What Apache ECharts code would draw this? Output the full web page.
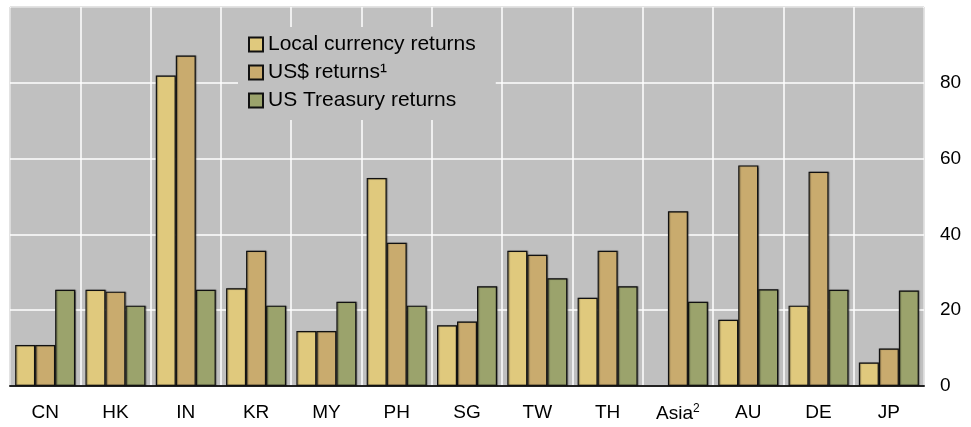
<!DOCTYPE html>
<html>
<head>
<meta charset="utf-8">
<title>Returns</title>
<script src="https://cdn.jsdelivr.net/npm/echarts@6/dist/echarts.min.js"></script>
<style>
  html, body { margin: 0; padding: 0; background: #fff; }
  #demo { width: 971px; height: 427px; }
</style>
</head>
<body>
<div id="demo"></div>
<script>
var categories = ["CN", "HK", "IN", "KR", "MY", "PH", "SG", "TW", "TH", "Asia", "AU", "DE", "JP"];
var localReturns = [10.8, 25.4, 81.9, 25.8, 14.5, 54.9, 16.0, 35.7, 23.3, null, 17.5, 21.2, 6.2];
var usdReturns = [10.8, 24.9, 87.2, 35.7, 14.5, 37.8, 17.0, 34.6, 35.7, 46.1, 58.2, 56.5, 9.9];
var treasuryReturns = [25.4, 21.2, 25.4, 21.2, 22.2, 21.2, 26.3, 28.4, 26.3, 22.2, 25.5, 25.4, 25.2];
var yTicks = [0, 20, 40, 60, 80];

var font = "'Liberation Sans', Arial, sans-serif";
var myChart = echarts.init(document.getElementById('demo'));

// 柱子的共同样式
function barStyle(color) {
    return {
        color: color,
        borderColor: '#111',
        borderWidth: 1.2,
        shadowColor: 'rgba(0,0,0,0.35)',
        shadowBlur: 1,
        shadowOffsetX: 1,
        shadowOffsetY: 0
    };
}

var option = {
    animation: false,
    textStyle: { fontFamily: font },
    grid: {
        left: 10, right: 47, top: 7, bottom: 41,
        show: true,
        backgroundColor: '#c0c0c0',
        borderColor: '#222',
        borderWidth: 1
    },
    legend: {
        orient: 'vertical',
        left: 238, top: 27,
        padding: [7, 20, 9, 10],
        backgroundColor: '#c0c0c0',
        itemWidth: 14, itemHeight: 14, itemGap: 7,
        icon: 'rect',
        textStyle: { fontSize: 21, color: '#000', lineHeight: 21, fontFamily: font },
        data: ['Local currency returns', 'US$ returns¹', 'US Treasury returns']
    },
    xAxis: {
        type: 'category',
        data: categories,
        axisLine: { lineStyle: { color: '#222', width: 2 } },
        axisTick: { show: false },
        splitLine: { show: true, interval: 0, lineStyle: { color: '#fff', width: 1.5 } },
        axisLabel: {
            interval: 0,
            fontSize: 19, color: '#000', margin: 17, fontFamily: font,
            formatter: function (v) { return v === 'Asia' ? 'Asia{sup|2}' : v; },
            rich: { sup: { fontSize: 12, verticalAlign: 'top', padding: [0, 0, 9, 0], color: '#000' } }
        }
    },
    yAxis: {
        type: 'value',
        position: 'right',
        min: 0, max: 100, interval: 20,
        axisLine: { show: false },
        axisTick: { show: false },
        splitLine: { lineStyle: { color: '#fff', width: 1.5 } },
        axisLabel: {
            fontSize: 19, color: '#000', margin: 16, fontFamily: font,
            formatter: function (v) { return yTicks.indexOf(v) >= 0 ? String(v) : ''; }
        }
    },
    series: [{
        name: 'Local currency returns',
        type: 'bar',
        barWidth: 20, barGap: '0%',
        itemStyle: barStyle('#e0c97d'),
        data: localReturns
    }, {
        name: 'US$ returns¹',
        type: 'bar',
        barWidth: 20, barGap: '0%',
        itemStyle: barStyle('#c9ab6e'),
        data: usdReturns
    }, {
        name: 'US Treasury returns',
        type: 'bar',
        barWidth: 20, barGap: '0%',
        itemStyle: barStyle('#9ba36c'),
        data: treasuryReturns
    }]
};
myChart.setOption(option);
</script>
</body>
</html>
